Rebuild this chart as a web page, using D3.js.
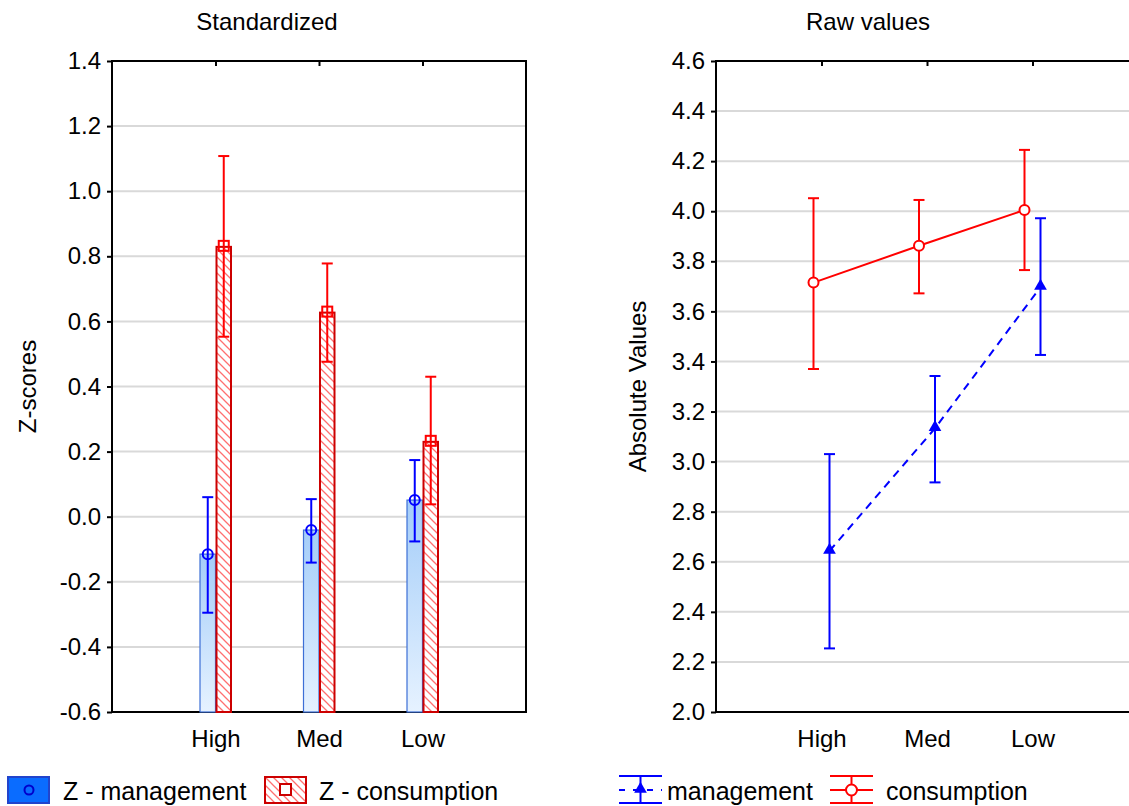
<!DOCTYPE html>
<html>
<head>
<meta charset="utf-8">
<script src="https://cdn.jsdelivr.net/npm/d3@7"></script>
<style>
  body { margin: 0; background: #fff; }
  text { font-family: "Liberation Sans", Arial, sans-serif; fill: #000; }
</style>
</head>
<body>
<div id="chart"></div>
<script>
const svgWidth = 1129;
const svgHeight = 806;

// categories and values
const categories = ["High", "Med", "Low"];

const zManagement   = [-0.115, -0.041, 0.051];
const zManagementLo = [-0.295, -0.141, -0.076];
const zManagementHi = [0.060, 0.054, 0.174];

const zConsumption   = [0.829, 0.627, 0.230];
const zConsumptionLo = [0.553, 0.476, 0.038];
const zConsumptionHi = [1.108, 0.778, 0.430];

const rawManagement   = [2.643, 3.133, 3.697];
const rawManagementLo = [2.254, 2.917, 3.426];
const rawManagementHi = [3.030, 3.342, 3.972];

const rawConsumption   = [3.715, 3.862, 4.005];
const rawConsumptionLo = [3.370, 3.672, 3.765];
const rawConsumptionHi = [4.052, 4.045, 4.245];

const zTicks   = [-0.6, -0.4, -0.2, 0.0, 0.2, 0.4, 0.6, 0.8, 1.0, 1.2, 1.4];
const rawTicks = [2.0, 2.2, 2.4, 2.6, 2.8, 3.0, 3.2, 3.4, 3.6, 3.8, 4.0, 4.2, 4.4, 4.6];

const blue = "#0000ff";
const red = "#ff0000";
const fontSize = "24px";

const svg = d3.select("#chart")
  .append("svg")
  .attr("width", svgWidth)
  .attr("height", svgHeight);

const defs = svg.append("defs");

// gradient for the blue bars
const grad = defs.append("linearGradient")
  .attr("id", "blueGrad")
  .attr("x1", 0).attr("y1", 0).attr("x2", 0).attr("y2", 1);
grad.append("stop").attr("offset", "0%").attr("stop-color", "#a4cdf9");
grad.append("stop").attr("offset", "100%").attr("stop-color", "#e6f2ff");

// hatch for the red bars
const hatch = defs.append("pattern")
  .attr("id", "hatch")
  .attr("patternUnits", "userSpaceOnUse")
  .attr("width", 8).attr("height", 8);
hatch.append("rect").attr("width", 8).attr("height", 8).attr("fill", "#fff");
hatch.append("path")
  .attr("d", "M-2,-2L10,10M-2,6L2,10M6,-2L10,2")
  .attr("stroke", "#ff7070")
  .attr("stroke-width", 1.3);

const plotTop = 61, plotBottom = 712;

// draws box, grid, y axis, category axis; returns scales
function makePanel(left, right, yDomain, ticks, title, titleX, yLabel, yLabelX) {
  const g = svg.append("g");
  const x = d3.scalePoint().domain(categories).range([left, right]).padding(1);
  const y = d3.scaleLinear().domain(yDomain).range([plotBottom, plotTop]);

  // grid lines
  g.selectAll("line.grid")
    .data(ticks.slice(1, -1))
    .enter()
    .append("line")
    .attr("x1", left).attr("x2", right)
    .attr("y1", d => y(d)).attr("y2", d => y(d))
    .attr("stroke", "#d9d9d9")
    .attr("stroke-width", 2);

  // y axis
  const yAxis = g.append("g")
    .attr("transform", `translate(${left},0)`)
    .call(d3.axisLeft(y).tickValues(ticks).tickFormat(d => d.toFixed(1)).tickSize(5).tickPadding(6));
  yAxis.select(".domain").remove();
  yAxis.selectAll("line").attr("stroke", "#000").attr("stroke-width", 2);
  yAxis.selectAll("text").style("font-size", fontSize);

  // category labels
  const xAxis = g.append("g")
    .attr("transform", `translate(0,${plotBottom})`)
    .call(d3.axisBottom(x).tickSize(0).tickPadding(18));
  xAxis.select(".domain").remove();
  xAxis.selectAll("text").style("font-size", fontSize);

  // top ticks pointing inward
  const topAxis = g.append("g")
    .attr("transform", `translate(0,${plotTop})`)
    .call(d3.axisBottom(x).tickSize(5).tickFormat(""));
  topAxis.select(".domain").remove();
  topAxis.selectAll("line").attr("stroke", "#000").attr("stroke-width", 2);

  // frame
  g.append("rect")
    .attr("x", left).attr("y", plotTop)
    .attr("width", right - left).attr("height", plotBottom - plotTop)
    .attr("fill", "none")
    .attr("stroke", "#000")
    .attr("stroke-width", 2);

  svg.append("text")
    .attr("x", titleX).attr("y", 30)
    .attr("text-anchor", "middle")
    .style("font-size", fontSize)
    .text(title);

  svg.append("text")
    .attr("transform", `translate(${yLabelX},${(plotTop + plotBottom) / 2}) rotate(-90)`)
    .attr("text-anchor", "middle")
    .style("font-size", fontSize)
    .text(yLabel);

  return { g, x, y };
}

function errorBars(g, xs, y, lo, hi, color) {
  const eb = g.append("g").attr("stroke", color).attr("stroke-width", 2);
  categories.forEach((c, i) => {
    const cx = xs(c);
    eb.append("line").attr("x1", cx).attr("x2", cx).attr("y1", y(lo[i])).attr("y2", y(hi[i]));
    eb.append("line").attr("x1", cx - 5.5).attr("x2", cx + 5.5).attr("y1", y(lo[i])).attr("y2", y(lo[i]));
    eb.append("line").attr("x1", cx - 5.5).attr("x2", cx + 5.5).attr("y1", y(hi[i])).attr("y2", y(hi[i]));
  });
}

// ---- left panel: standardized ----
const left = makePanel(112, 526, [-0.6, 1.4], zTicks, "Standardized", 267, "Z-scores", 36);
const barW = 15.5;

left.g.selectAll("rect.zman")
  .data(zManagement)
  .enter()
  .append("rect")
  .attr("x", (d, i) => left.x(categories[i]) - barW)
  .attr("y", d => left.y(d))
  .attr("width", barW)
  .attr("height", d => plotBottom - left.y(d))
  .attr("fill", "url(#blueGrad)")
  .attr("stroke", "#3d6fd6")
  .attr("stroke-width", 1.2);

left.g.selectAll("rect.zcon")
  .data(zConsumption)
  .enter()
  .append("rect")
  .attr("x", (d, i) => left.x(categories[i]) + 1)
  .attr("y", d => left.y(d))
  .attr("width", barW - 1)
  .attr("height", d => plotBottom - left.y(d))
  .attr("fill", "url(#hatch)")
  .attr("stroke", "#cc0000")
  .attr("stroke-width", 2);

const zManX = c => left.x(c) - barW / 2;
const zConX = c => left.x(c) + barW / 2 + 0.5;

errorBars(left.g, zManX, left.y, zManagementLo, zManagementHi, blue);
errorBars(left.g, zConX, left.y, zConsumptionLo, zConsumptionHi, red);

left.g.selectAll("circle.zman")
  .data(zManagement)
  .enter()
  .append("circle")
  .attr("cx", (d, i) => zManX(categories[i]))
  .attr("cy", d => left.y(d))
  .attr("r", 5)
  .attr("fill", "none")
  .attr("stroke", blue)
  .attr("stroke-width", 2);

left.g.selectAll("rect.zconMark")
  .data(zConsumption)
  .enter()
  .append("rect")
  .attr("x", (d, i) => zConX(categories[i]) - 5)
  .attr("y", d => left.y(d) - 6)
  .attr("width", 10)
  .attr("height", 10)
  .attr("fill", "none")
  .attr("stroke", red)
  .attr("stroke-width", 2);

// ---- right panel: raw values ----
const right = makePanel(716, 1138, [2.0, 4.6], rawTicks, "Raw values", 868, "Absolute Values", 646);
const rawManX = c => right.x(c) + 8;
const rawConX = c => right.x(c) - 8;

const manLine = d3.line()
  .x((d, i) => rawManX(categories[i]))
  .y(d => right.y(d));
const conLine = d3.line()
  .x((d, i) => rawConX(categories[i]))
  .y(d => right.y(d));

right.g.append("path")
  .datum(rawManagement)
  .attr("d", manLine)
  .attr("fill", "none")
  .attr("stroke", blue)
  .attr("stroke-width", 2)
  .attr("stroke-dasharray", "8,6");

right.g.append("path")
  .datum(rawConsumption)
  .attr("d", conLine)
  .attr("fill", "none")
  .attr("stroke", red)
  .attr("stroke-width", 2);

errorBars(right.g, rawManX, right.y, rawManagementLo, rawManagementHi, blue);
errorBars(right.g, rawConX, right.y, rawConsumptionLo, rawConsumptionHi, red);

const tri = d3.symbol().type(d3.symbolTriangle).size(70);
right.g.selectAll("path.tri")
  .data(rawManagement)
  .enter()
  .append("path")
  .attr("d", tri)
  .attr("transform", (d, i) => `translate(${rawManX(categories[i])},${right.y(d) - 1})`)
  .attr("fill", blue);

right.g.selectAll("circle.rcon")
  .data(rawConsumption)
  .enter()
  .append("circle")
  .attr("cx", (d, i) => rawConX(categories[i]))
  .attr("cy", d => right.y(d))
  .attr("r", 5)
  .attr("fill", "#fff")
  .attr("stroke", red)
  .attr("stroke-width", 2);

// ---- legends ----
const legend = svg.append("g");
const legendFont = "25px";

legend.append("rect")
  .attr("x", 8).attr("y", 777).attr("width", 41).attr("height", 26)
  .attr("fill", "#0a6cff").attr("stroke", "#2244cc").attr("stroke-width", 2);
legend.append("circle")
  .attr("cx", 29).attr("cy", 790).attr("r", 4.5)
  .attr("fill", "none").attr("stroke", "#0000cc").attr("stroke-width", 2);
legend.append("text").attr("x", 63).attr("y", 800).style("font-size", legendFont).text("Z - management");

legend.append("rect")
  .attr("x", 265).attr("y", 777).attr("width", 41).attr("height", 26)
  .attr("fill", "url(#hatch)").attr("stroke", "#cc0000").attr("stroke-width", 2);
legend.append("rect")
  .attr("x", 280).attr("y", 784).attr("width", 11).attr("height", 11)
  .attr("fill", "#fff").attr("stroke", "#cc0000").attr("stroke-width", 2);
legend.append("text").attr("x", 319).attr("y", 800).style("font-size", legendFont).text("Z - consumption");

function lineKey(x0, color, dashed) {
  const k = legend.append("g").attr("stroke", color).attr("stroke-width", 2);
  k.append("line").attr("x1", x0).attr("x2", x0 + 43).attr("y1", 776).attr("y2", 776);
  k.append("line").attr("x1", x0).attr("x2", x0 + 43).attr("y1", 803).attr("y2", 803);
  k.append("line").attr("x1", x0 + 21.5).attr("x2", x0 + 21.5).attr("y1", 776).attr("y2", 803);
  k.append("line").attr("x1", x0).attr("x2", x0 + 43).attr("y1", 790).attr("y2", 790)
    .attr("stroke-dasharray", dashed ? "6,8" : null);
}
lineKey(619, blue, true);
legend.append("path")
  .attr("d", tri)
  .attr("transform", "translate(640.5,789)")
  .attr("fill", blue);
legend.append("text").attr("x", 667).attr("y", 800).style("font-size", legendFont).text("management");

lineKey(830, red, false);
legend.append("circle")
  .attr("cx", 851.5).attr("cy", 790).attr("r", 5.5)
  .attr("fill", "#fff").attr("stroke", red).attr("stroke-width", 2);
legend.append("text").attr("x", 886).attr("y", 800).style("font-size", legendFont).text("consumption");
</script>
</body>
</html>
